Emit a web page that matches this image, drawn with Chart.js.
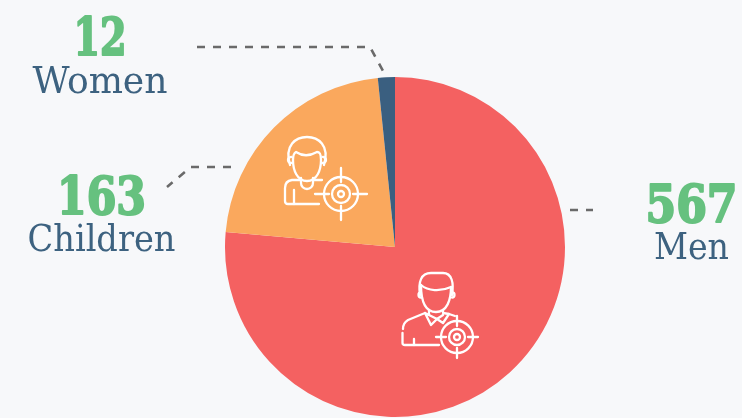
<!DOCTYPE html>
<html><head><meta charset="utf-8">
<style>html,body{margin:0;padding:0;background:#f7f8fa}canvas{display:block}</style>
<script src="https://cdn.jsdelivr.net/npm/chart.js@4"></script></head>
<body><div style="width:742px;height:418px;position:relative"><canvas id="c" width="742" height="418"></canvas></div>
<script>
const categories = ['Men','Children','Women'];
const values = [567,163,12];
const colors = ['#f46161','#faa85d','#3a5f80'];
const annotations = [
 {i:0,cx:691.5,ny:222,ly:259,nw:92,lw:75,line:[[570,210],[593,210]]},
 {i:1,cx:101.5,ny:214,ly:251,nw:89,lw:148,line:[[231,167],[191,167],[167,187]]},
 {i:2,cx:100,ny:55,ly:93,nw:53,lw:135,line:[[197,47],[370,47],[383,71]]}
];
function circle(x,y,r,c){c.beginPath();c.arc(x,y,r,0,Math.PI*2);c.stroke();}
function target(c,x,y,R,r,d,T){
 circle(x,y,R,c);circle(x,y,r,c);circle(x,y,d,c);
 c.beginPath();
 [[1,0],[-1,0],[0,1],[0,-1]].forEach(([a,b])=>{c.moveTo(x+a*(R-5),y+b*(R-5));c.lineTo(x+a*T,y+b*T);});
 c.stroke();
}
function child(c){
 c.beginPath();c.moveTo(290,165);c.bezierCurveTo(284,145,296,137,307,137);c.bezierCurveTo(318,137,330,145,324,165);c.stroke();
 c.beginPath();c.moveTo(293,160);c.bezierCurveTo(293,170,297,181,307,181);c.bezierCurveTo(317,181,321,170,321,160);c.bezierCurveTo(321,154,320,152,317,152);c.bezierCurveTo(310,156,302,156,296,152);c.bezierCurveTo(294,153,293,156,293,160);c.stroke();
 c.beginPath();c.arc(291,160,3,1.2,4.8);c.stroke();c.beginPath();c.arc(323,160,3,-1.6,1.9);c.stroke();
 c.beginPath();c.moveTo(301,178);c.lineTo(301,183);c.arc(307,183,6,Math.PI,0,true);c.lineTo(313,178);c.stroke();
 c.beginPath();c.moveTo(301,180);c.lineTo(292,180);c.quadraticCurveTo(285,181,285,188);c.lineTo(285,201);c.quadraticCurveTo(285,204,288,204);c.lineTo(319,204);c.stroke();
 c.beginPath();c.moveTo(313,180);c.lineTo(322,180);c.stroke();
 c.beginPath();c.moveTo(294,190);c.lineTo(294,204);c.stroke();
 target(c,341,194,17,9,3,26);
}
function man(c){
 c.beginPath();c.moveTo(420,295);c.bezierCurveTo(418,282,421,273,431,273);c.lineTo(443,273);c.bezierCurveTo(452,273,454,283,452,295);c.stroke();
 c.beginPath();c.moveTo(421,285);c.bezierCurveTo(428,291,440,292,451,287);c.stroke();
 c.beginPath();c.moveTo(421,285);c.bezierCurveTo(421,300,425,312,436,312);c.bezierCurveTo(447,312,451,300,451,287);c.stroke();
 c.beginPath();c.arc(421,295,2.5,1.5,4.7);c.stroke();c.beginPath();c.arc(452,295,2.5,-1.5,1.6);c.stroke();
 c.beginPath();c.moveTo(429,310);c.lineTo(429,315);c.lineTo(425,313);c.lineTo(431,325);c.lineTo(437,319);c.lineTo(443,323);c.lineTo(449,314);c.lineTo(443,313);c.lineTo(443,310);c.stroke();
 c.beginPath();c.moveTo(429,315);c.lineTo(437,319);c.lineTo(443,315);c.stroke();
 c.beginPath();c.moveTo(425,313);c.lineTo(408,320);c.quadraticCurveTo(403,323,403,329);c.stroke();
 c.beginPath();c.moveTo(449,314);c.lineTo(455,316);c.stroke();
 c.beginPath();c.moveTo(402.5,333);c.lineTo(402.5,343);c.quadraticCurveTo(402.5,345,405,345);c.lineTo(439,345);c.stroke();
 c.beginPath();c.moveTo(414,339);c.lineTo(414,345);c.stroke();
 target(c,457,337,16,8,3,21);
}
function fitted(c,text,cx,y,width,bold){
 const w=c.measureText(text).width;
 c.save();c.translate(cx,y);c.scale(width/w,1);
 if(bold){c.lineWidth=2;c.lineJoin='round';c.strokeStyle=c.fillStyle;c.strokeText(text,0,0);}
 c.fillText(text,0,0);c.restore();
}
const overlay = {id:'overlay',afterDatasetsDraw(chart){
 const c=chart.ctx;c.save();
 c.lineWidth=2.3;c.strokeStyle='#ffffff';c.lineCap='round';c.lineJoin='round';
 child(c);man(c);
 c.lineCap='butt';c.lineWidth=2.6;c.strokeStyle='#6a6a6a';c.setLineDash([8,8]);
 annotations.forEach(a=>{c.beginPath();a.line.forEach((p,k)=>k?c.lineTo(p[0],p[1]):c.moveTo(p[0],p[1]));c.stroke();});
 c.setLineDash([]);
 c.textAlign='center';c.textBaseline='alphabetic';
 annotations.forEach(a=>{
  c.fillStyle='#66c17f';c.font='bold 52px "DejaVu Serif Condensed","DejaVu Serif"';
  fitted(c,String(values[a.i]),a.cx,a.ny,a.nw,true);
  c.fillStyle='#3d6280';c.font='37px "DejaVu Serif Condensed","DejaVu Serif"';
  fitted(c,categories[a.i],a.cx,a.ly,a.lw,false);
 });
 c.restore();
}};
new Chart(document.getElementById('c'),{
 type:'pie',
 data:{labels:categories,datasets:[{data:values,backgroundColor:colors,borderWidth:0,hoverOffset:0}]},
 options:{responsive:false,animation:false,
  layout:{padding:{left:225,right:177,top:77,bottom:1}},
  plugins:{legend:{display:false},tooltip:{enabled:false}}},
 plugins:[overlay]
});
</script></body></html>
